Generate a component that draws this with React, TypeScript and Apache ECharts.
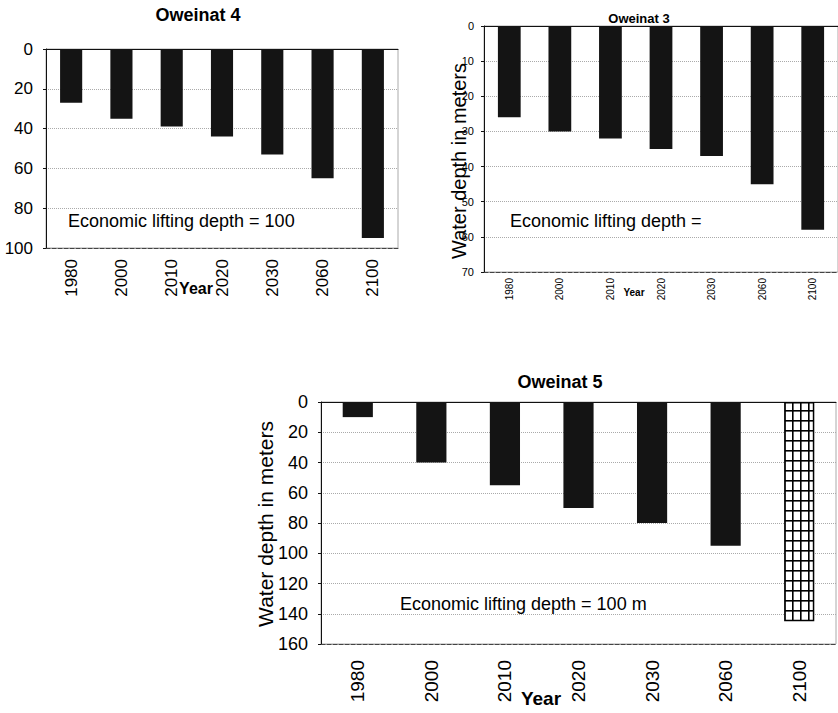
import React, { useEffect, useRef } from "react";
import * as echarts from "echarts";

const years = ["1980", "2000", "2010", "2020", "2030", "2060", "2100"];
const oweinat4 = [27, 35, 39, 44, 53, 65, 95];
const oweinat3 = [26, 30, 32, 35, 37, 45, 58];
const oweinat5 = [10, 40, 55, 70, 80, 95, 145];

const FONT = "'Liberation Sans', Arial, sans-serif";
const BAR = "#141414";

function makePattern() {
  const c = document.createElement("canvas");
  c.width = 8;
  c.height = 10;
  const g = c.getContext("2d")!;
  g.fillStyle = "#fff";
  g.fillRect(0, 0, 8, 10);
  g.fillStyle = "#000";
  g.fillRect(0, 0, 1.6, 10);
  g.fillRect(0, 0, 8, 1.6);
  return c;
}

function txt(text: string, x: number, y: number, size: number, bold = false, align = "left", rot = 0) {
  return {
    type: "text",
    x,
    y,
    rotation: rot,
    style: {
      text,
      font: `${bold ? "bold " : ""}${size}px ${FONT}`,
      fill: "#000",
      align,
      verticalAlign: "middle",
      textAlign: align,
      textVerticalAlign: "middle",
    },
  };
}

export default function App() {
  const ref = useRef<HTMLDivElement>(null);
  useEffect(() => {
    const chart = echarts.init(ref.current!, undefined, { renderer: "svg" });
    const grids = [
      { left: 46, top: 49, width: 352, height: 199 },
      { left: 484, top: 26, width: 354, height: 246 },
      { left: 321, top: 402, width: 515, height: 242 },
    ].map((g) => ({ ...g, show: true, borderColor: "#aaa", borderWidth: 1, containLabel: false, outerBoundsMode: "none" }));

    const xFont = [17, 10, 19];
    const xMargin = [11, 6, 16];
    const yFont = [17, 11, 18];
    const yMargin = [13, 10, 13];
    const yMax = [100, 70, 160];
    const yInt = [20, 10, 20];

    const xAxis: any[] = [];
    const yAxis: any[] = [];
    for (let i = 0; i < 3; i++) {
      xAxis.push({
        type: "category",
        gridIndex: i,
        data: years,
        position: "bottom",
        axisLine: { onZero: false, lineStyle: { color: "#444", type: "dashed", width: 1 } },
        axisTick: { show: false },
        axisLabel: { rotate: 90, fontSize: xFont[i], color: "#000", margin: xMargin[i], fontFamily: FONT },
      });
    }
    for (let i = 0; i < 3; i++) {
      xAxis.push({
        type: "category",
        gridIndex: i,
        data: years,
        position: "top",
        axisLine: { onZero: false, lineStyle: { color: "#111", width: 1 } },
        axisTick: { show: false },
        axisLabel: { show: false },
      });
    }
    for (let i = 0; i < 3; i++) {
      yAxis.push({
        type: "value",
        gridIndex: i,
        inverse: true,
        min: 0,
        max: yMax[i],
        interval: yInt[i],
        axisLine: { show: true, lineStyle: { color: "#111", width: 1 } },
        axisTick: { show: true, length: 3, lineStyle: { color: "#111" } },
        axisLabel: { fontSize: yFont[i], color: "#000", margin: yMargin[i], fontFamily: FONT },
        splitLine: { show: true, lineStyle: { color: "#aaa", type: "dotted", width: 1 } },
      });
    }

    const pattern = { image: makePattern(), repeat: "repeat" };
    const d5 = oweinat5.map((v, i) =>
      i === oweinat5.length - 1
        ? { value: v, itemStyle: { color: pattern, borderColor: "#000", borderWidth: 1.5 } }
        : v
    );

    chart.setOption({
      animation: false,
      backgroundColor: "#fff",
      grid: grids,
      xAxis,
      yAxis,
      series: [
        { type: "bar", xAxisIndex: 0, yAxisIndex: 0, data: oweinat4, barWidth: "44%", itemStyle: { color: BAR } },
        { type: "bar", xAxisIndex: 1, yAxisIndex: 1, data: oweinat3, barWidth: "45%", itemStyle: { color: BAR } },
        { type: "bar", xAxisIndex: 2, yAxisIndex: 2, data: d5, barWidth: "41%", itemStyle: { color: BAR } },
      ],
      graphic: [
        txt("Oweinat 4", 198, 15, 18, true, "center"),
        txt("Oweinat 3", 639, 18, 13, true, "center"),
        txt("Oweinat 5", 560, 382, 18, true, "center"),
        txt("Year", 196, 288, 16, true, "center"),
        txt("Year", 634, 292, 10, true, "center"),
        txt("Year", 541, 698, 19, true, "center"),
        txt("Water depth in meters", 459, 161, 20, false, "center", Math.PI / 2),
        txt("Water depth in meters", 265, 524, 21, false, "center", Math.PI / 2),
        txt("Economic lifting depth = 100", 68, 221, 18),
        txt("Economic lifting depth =", 510, 221, 18),
        txt("Economic lifting depth = 100 m", 400, 604, 18),
      ],
    });
    return () => chart.dispose();
  }, []);
  return <div ref={ref} style={{ position: "absolute", left: 0, top: 0, width: 838, height: 713 }} />;
}
